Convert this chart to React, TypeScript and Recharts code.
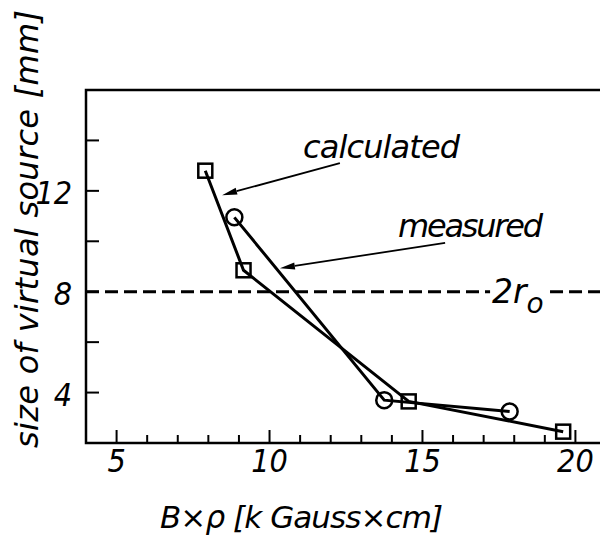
import { LineChart, Line, XAxis, YAxis, ReferenceLine, ReferenceArea } from "recharts"

// (B×ρ in kG·cm, size in mm)
const calcX = [7.9, 9.15, 14.55, 19.6]
const calcY = [12.8, 8.85, 3.65, 2.45]
const measX = [8.85, 13.75, 17.85]
const measY = [10.95, 3.7, 3.25]

const xTicks = [5, 6, 7, 8, 9, 10, 11, 12, 13, 14, 15, 16, 17, 18, 19, 20]
const xLabels = [5, 10, 15, 20]
const yTicks = [4, 6, 8, 10, 12, 14]
const yLabels = [4, 8, 12]
const twoR0 = 8

const calculated = calcX.map((x, i) => ({ x, y: calcY[i] }))
const measured = measX.map((x, i) => ({ x, y: measY[i] }))

const WORD_FONT = "'DejaVu Sans', sans-serif"
const NUM_FONT = "'Liberation Sans Narrow', 'DejaVu Sans Condensed', 'DejaVu Sans', sans-serif"

function XTick({ x, y, payload }: any) {
  const v = payload.value
  const major = v % 5 === 0
  return (
    <g>
      <line x1={x} x2={x} y1={y} y2={y - (major ? 13 : 8)} stroke="#000" strokeWidth={2} />
      {xLabels.includes(v) && (
        <text x={x} y={y + 29} textAnchor="middle" fontSize={32} fontStyle="italic" fontFamily={NUM_FONT} fill="#000">
          {v}
        </text>
      )}
    </g>
  )
}

function YTick({ x, y, payload }: any) {
  const v = payload.value
  return (
    <g>
      <line x1={x} x2={x + 13} y1={y} y2={y} stroke="#000" strokeWidth={2} />
      {yLabels.includes(v) && (
        <text x={x - 14} y={y + 13} textAnchor="end" fontSize={32} fontStyle="italic" fontFamily={NUM_FONT} fill="#000">
          {v}
        </text>
      )}
    </g>
  )
}

function Square(props: any) {
  const { cx, cy, index } = props
  return <rect key={index} x={cx - 7} y={cy - 7} width={14} height={14} fill="none" stroke="#000" strokeWidth={2.5} />
}

function Ring(props: any) {
  const { cx, cy, index } = props
  return <circle key={index} cx={cx} cy={cy} r={8} fill="none" stroke="#000" strokeWidth={2.5} />
}

function Arrow(props: any) {
  const { x1, y1, x2, y2 } = props
  const a = Math.atan2(y2 - y1, x2 - x1)
  const len = 15
  const w = 3.5
  const bx = x2 - len * Math.cos(a)
  const by = y2 - len * Math.sin(a)
  const px = -Math.sin(a) * w
  const py = Math.cos(a) * w
  return (
    <g>
      <line x1={x1} y1={y1} x2={bx} y2={by} stroke="#000" strokeWidth={1.8} />
      <polygon points={`${x2},${y2} ${bx + px},${by + py} ${bx - px},${by - py}`} fill="#000" />
    </g>
  )
}

export default function App() {
  return (
    <div style={{ width: 600, height: 533 }}>
      <LineChart width={600} height={533} margin={{ top: 82, right: 2, left: 0, bottom: 0 }}>
        <XAxis
          type="number"
          dataKey="x"
          domain={[4, 21]}
          ticks={xTicks}
          height={98}
          axisLine={false}
          tickLine={false}
          tickSize={0}
          tickMargin={0}
          tick={<XTick />}
          allowDataOverflow
        />
        <YAxis
          type="number"
          dataKey="y"
          domain={[2, 16]}
          ticks={yTicks}
          width={78}
          axisLine={false}
          tickLine={false}
          tickSize={0}
          tickMargin={0}
          tick={<YTick />}
          allowDataOverflow
        />
        <ReferenceArea x1={4} x2={21} y1={2} y2={16} fill="none" stroke="#000" strokeWidth={2.5} fillOpacity={0} />
        <ReferenceLine segment={[{ x: 4, y: twoR0 }, { x: 17.21, y: twoR0 }]} stroke="#000" strokeWidth={3} strokeDasharray="13 6" />
        <ReferenceLine segment={[{ x: 19.17, y: twoR0 }, { x: 21, y: twoR0 }]} stroke="#000" strokeWidth={3} strokeDasharray="13 6" />
        <ReferenceLine segment={[{ x: 12.3, y: 13.1 }, { x: 8.45, y: 11.83 }]} shape={(p: any) => <Arrow {...p} />} />
        <ReferenceLine segment={[{ x: 15.74, y: 9.94 }, { x: 10.34, y: 8.93 }]} shape={(p: any) => <Arrow {...p} />} />
        <Line
          data={calculated}
          dataKey="y"
          type="linear"
          stroke="#000"
          strokeWidth={3}
          dot={(p: any) => <Square {...p} key={p.index} />}
          isAnimationActive={false}
        />
        <Line
          data={measured}
          dataKey="y"
          type="linear"
          stroke="#000"
          strokeWidth={3}
          dot={(p: any) => <Ring {...p} key={p.index} />}
          isAnimationActive={false}
        />
        <g fontFamily={WORD_FONT} fontStyle="italic" fill="#000">
          <text x={295} y={150} fontSize={32} textLength={157} lengthAdjust="spacing">calculated</text>
          <text x={390} y={229} fontSize={32} textLength={145} lengthAdjust="spacing">measured</text>
          <text x={484} y={295} fontSize={33}>
            2r<tspan fontSize={28} dy={10}>o</tspan>
          </text>
          <text x={152} y={520} fontSize={31} textLength={283} lengthAdjust="spacing">
            B×ρ [k Gauss×cm]
          </text>
          <text x={30} y={440} fontSize={32} transform="rotate(-90 30 440)" textLength={438} lengthAdjust="spacing">
            size of virtual source [mm]
          </text>
        </g>
      </LineChart>
    </div>
  )
}
